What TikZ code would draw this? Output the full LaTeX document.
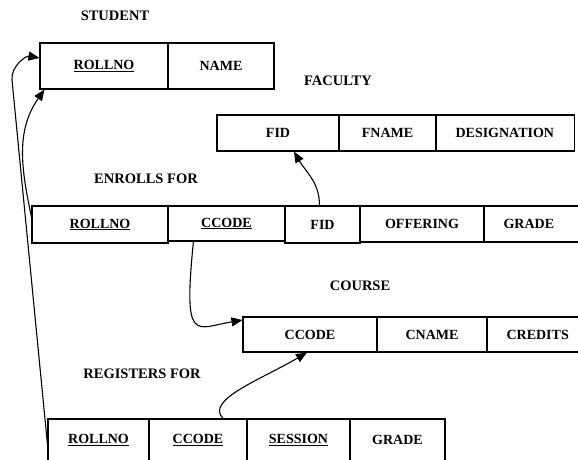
\documentclass[tikz,border=0pt]{standalone}
\usepackage{fontspec}
\setmainfont{Liberation Serif}
\usetikzlibrary{arrows.meta,calc}
\begin{document}
\begin{tikzpicture}[x=1pt,y=-1pt,
  cell/.style={draw, line width=1.1pt, inner sep=0pt, font=\fontsize{14}{16}\selectfont\bfseries},
  opencell/.style={cell, anchor=west, align=left, inner xsep=19pt, inner ysep=0pt, text width=100pt},
  title/.style={font=\fontsize{14.5}{16}\selectfont\bfseries},
  conn/.style={line width=1.1pt, -{Triangle[length=11pt,width=9pt]}}]
\useasboundingbox (0,0) rectangle (578,459);
\clip (0,0) rectangle (578,459);

% titles
\node[title] (tstudent) at (115,16) {STUDENT};
\node[title] (tfaculty) at (338,81) {FACULTY};
\node[title] (tenrolls) at (146,179) {ENROLLS FOR};
\node[title] (tcourse) at (360,286) {COURSE};
\node[title] (tregisters) at (142,374) {REGISTERS FOR};

% STUDENT
\node[cell, minimum width=128pt, minimum height=46pt] (s1) at (104,66) {\underline{ROLLNO}};
\node[cell, minimum width=106pt, minimum height=46pt] (s2) at (221,66) {NAME};

% FACULTY
\node[cell, minimum width=122pt, minimum height=36pt] (f1) at (278,133) {FID};
\node[cell, minimum width=97pt, minimum height=36pt] (f2) at (387.5,133) {FNAME};
\node[opencell, minimum height=36pt] (f3) at (436,133) {DESIGNATION};

% ENROLLS FOR
\node[cell, minimum width=136pt, minimum height=37pt] (e1) at (100,224.5) {\underline{ROLLNO}};
\node[cell, minimum width=117pt, minimum height=35pt] (e2) at (226.5,223.5) {\underline{CCODE}};
\node[cell, minimum width=75pt, minimum height=37pt] (e3) at (322.5,224.5) {FID};
\node[cell, minimum width=124pt, minimum height=36pt] (e4) at (422,224) {OFFERING};
\node[opencell, minimum height=36pt] (e5) at (484,224) {GRADE};

% COURSE
\node[cell, minimum width=134pt, minimum height=35pt] (c1) at (310,334.5) {CCODE};
\node[cell, minimum width=110pt, minimum height=35pt] (c2) at (432,334.5) {CNAME};
\node[opencell, minimum height=35pt] (c3) at (487,334.5) {CREDITS};

% REGISTERS FOR
\node[cell, minimum width=101pt, minimum height=42pt] (r1) at (98.5,440) {\underline{ROLLNO}};
\node[cell, minimum width=98pt, minimum height=42pt] (r2) at (198,440) {\underline{CCODE}};
\node[cell, minimum width=103pt, minimum height=42pt] (r3) at (298.5,440) {\underline{SESSION}};
\node[cell, minimum width=95pt, minimum height=42pt] (r4) at (397.5,440) {GRADE};

% connectors
\coordinate (a1) at ($(r1.north west)!0.6!(r1.south west)$);
\draw[conn] (a1) -- (12,80) to[out=95,in=170] ($(s1.north west)!0.33!(s1.south west)$);
\draw[conn] ($(e1.north west)!0.3!(e1.south west)$) to[out=102,in=235] ($(s1.south west)+(5,0)$);
\draw[conn] ($(e2.south west)!0.22!(e2.south east)$) .. controls (183,345) and (195,328) .. ($(c1.north west)!0.1!(c1.south west)$);
\draw[conn] ($(e3.north)+(-3,0)$) to[out=90,in=-60] ($(f1.south)+(16,0)$);
\draw[conn] ($(r2.north)+(25,0)$) .. controls (205,400) and (260,380) .. ($(c1.south)+(-3,0)$);
\end{tikzpicture}
\end{document}
